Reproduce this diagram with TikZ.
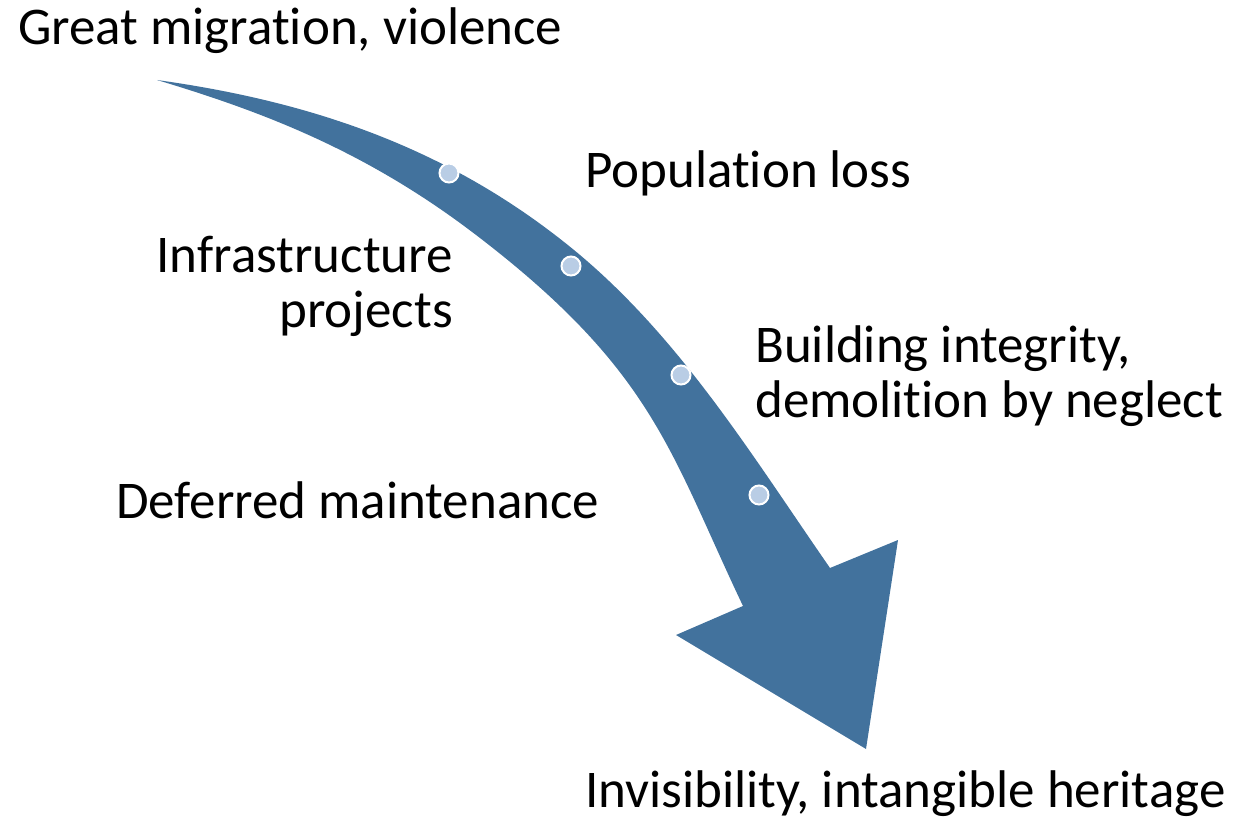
\documentclass[tikz,border=0pt]{standalone}
\usepackage{fontspec}
\setmainfont{Carlito}[Ligatures=NoCommon]
\definecolor{arrowblue}{RGB}{66,114,157}
\definecolor{dotblue}{RGB}{185,205,229}
\begin{document}
\begin{tikzpicture}[x=1pt,y=-1pt,
  lbl/.style={inner sep=0pt, font=\fontsize{53}{55}\selectfont, text=black},
  stepdot/.style={circle, fill=dotblue, draw=white, line width=2pt, minimum size=19pt, inner sep=0pt}]
\useasboundingbox (0,0) rectangle (1236,818);
% curved arrow
\fill[arrowblue] (157,80)
  .. controls (307,101) and (450,146) .. (580,255)
  .. controls (683,342) and (753,457) .. (830,568)
  -- (898,540) -- (866,749) -- (676,635) -- (743,606)
  .. controls (670,452.5) and (654,372) .. (480,238)
  .. controls (370,153) and (267,113) .. (157,80) -- cycle;
% dots
\node[stepdot] (d1) at (449,173) {};
\node[stepdot] (d2) at (571,266) {};
\node[stepdot] (d3) at (681,375) {};
\node[stepdot] (d4) at (759,495) {};
% labels
\node[lbl, anchor=base west] (t1) at (18,45) {Great migration, violence};
\node[lbl, anchor=base west] (t2) at (585,188) {Population loss};
\node[lbl, anchor=base east, align=right] (t3) at (453,327) {Infrastructure\\projects};
\node[lbl, anchor=base west, align=left] (t4) at (755,417) {Building integrity,\\demolition by neglect};
\node[lbl, anchor=base west] (t5) at (116,518) {Deferred maintenance};
\node[lbl, anchor=base west] (t6) at (585,807) {Invisibility, intangible heritage};
\end{tikzpicture}
\end{document}
